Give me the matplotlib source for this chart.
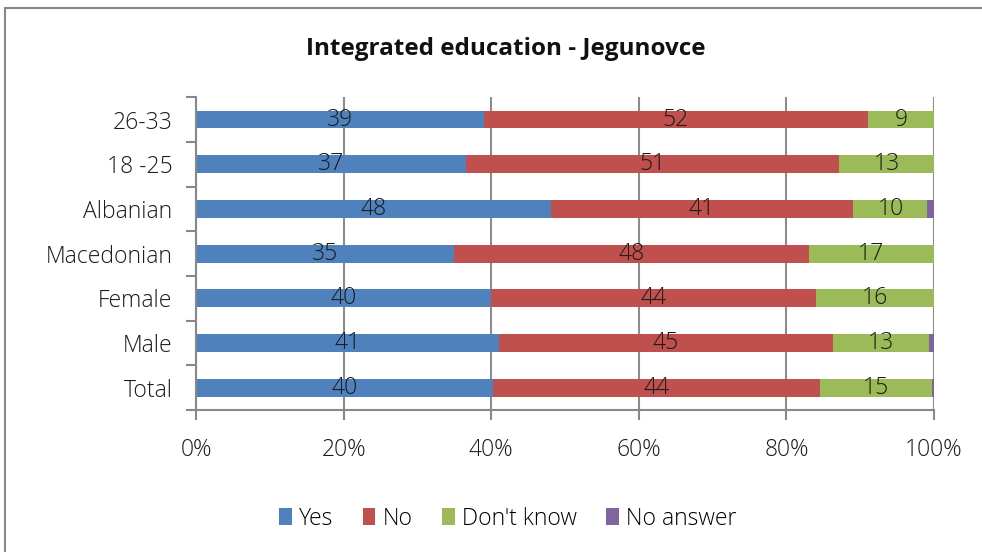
import matplotlib
matplotlib.use("Agg")
import matplotlib.pyplot as plt
from matplotlib.patches import Rectangle
import numpy as np

# Survey groups (bottom to top) and answer shares
groups = ["Total", "Male", "Female", "Macedonian", "Albanian", "18 -25", "26-33"]
yes = [40, 41, 40, 35, 48, 37, 39]
no = [44, 45, 44, 48, 41, 51, 52]
dont_know = [15, 13, 16, 17, 10, 13, 9]
no_answer = [0.3, 0.7, 0, 0, 0.9, 0, 0]

series_names = ["Yes", "No", "Don't know", "No answer"]
series_colors = ["#4f81bd", "#c0504d", "#9bbb59", "#8064a2"]
tick_labels = ["0%", "20%", "40%", "60%", "80%", "100%"]

plt.rcParams["font.family"] = ["Open Sans", "DejaVu Sans"]

fig = plt.figure(figsize=(9.82, 5.52), dpi=100)
ax = fig.add_axes([0.1996, 0.257, 0.7515, 0.567])

data = np.array([yes, no, dont_know, no_answer], dtype=float)
totals = data.sum(axis=0)
shares = data / totals * 100
y = np.arange(len(groups))
left = np.zeros(len(groups))
for name, color, raw, share in zip(series_names, series_colors, data, shares):
    ax.barh(y, share, left=left, height=0.4, color=color, label=name,
            edgecolor="none")
    if name != "No answer":
        for yi, l, s, v in zip(y, left, share, raw):
            if v > 0:
                ax.text(l + s / 2, yi, f"{v:.0f}", ha="center", va="center",
                        fontsize=16.5, fontweight="light", color="#1a1a1a")
    left += share

ax.set_xlim(0, 100)
ax.set_ylim(-0.5, len(groups) - 0.5)
ax.set_xticks(np.linspace(0, 100, 6))
ax.set_xticklabels(tick_labels, fontsize=16.5, fontweight="light", color="#1a1a1a")
ax.set_yticks(y)
ax.set_yticklabels(groups, fontsize=16.5, fontweight="light", color="#1a1a1a")
ax.set_yticks(np.arange(-0.5, len(groups), 1), minor=True)
ax.tick_params(axis="y", which="major", length=0, pad=17)
ax.tick_params(axis="y", which="minor", length=7, width=1.5, color="#888888",
               direction="out")
ax.tick_params(axis="x", which="major", length=7, width=1.5, color="#888888",
               direction="out", pad=13)
ax.grid(axis="x", color="#8c8c8c", linewidth=1.5, zorder=0)
ax.set_axisbelow(True)
for side in ["top", "right"]:
    ax.spines[side].set_visible(False)
for side in ["left", "bottom"]:
    ax.spines[side].set_color("#888888")
    ax.spines[side].set_linewidth(1.5)

fig.text(0.5155, 0.912, "Integrated education - Jegunovce", ha="center",
         va="center", fontsize=17.5, fontweight="bold", color="#111111")

handles, labels = ax.get_legend_handles_labels()
fig.legend(handles, labels, loc="center", bbox_to_anchor=(0.517, 0.06),
           ncol=4, frameon=False, handlelength=0.55,
           handleheight=0.75, handletextpad=0.3, columnspacing=1.3,
           prop={"weight": "light", "size": 16.5})

# Outer chart frame
fig.patches.append(Rectangle((5 / 982, -0.05), 1.1, 1 - 8 / 552 + 0.05,
                             transform=fig.transFigure, fill=False,
                             edgecolor="#878787", linewidth=1.5))

fig.savefig("out.png", dpi=100)
